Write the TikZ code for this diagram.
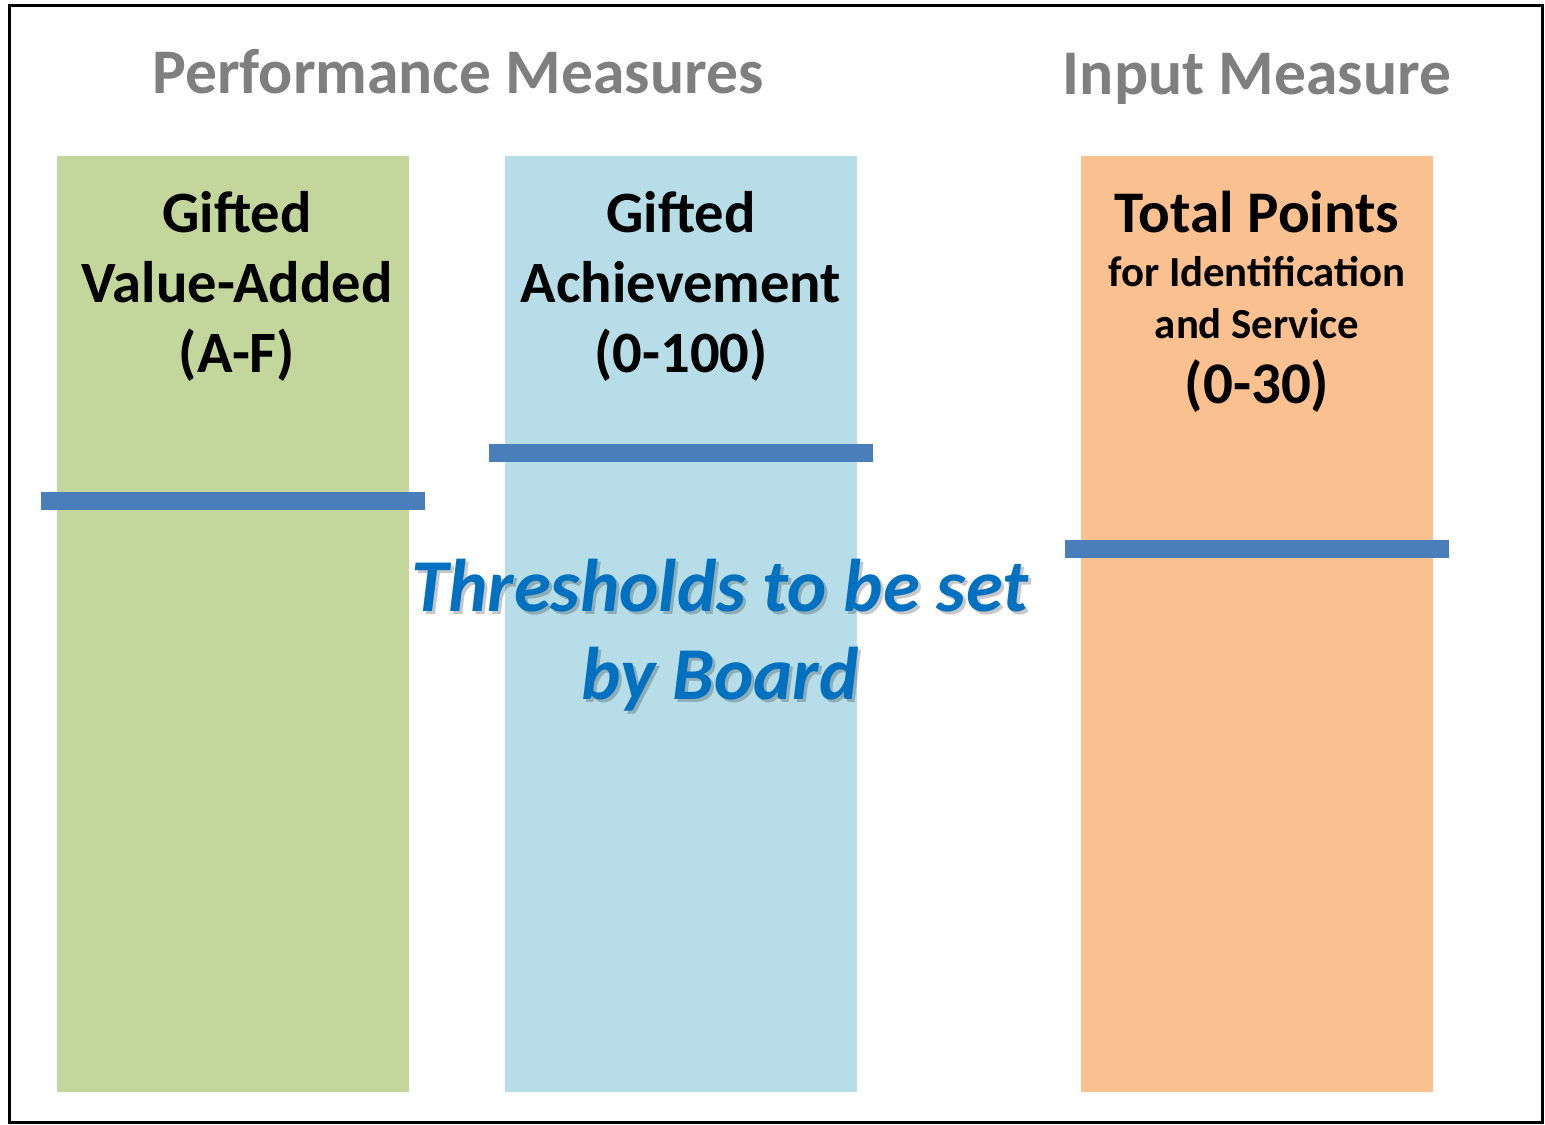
\documentclass[tikz,border=0pt]{standalone}
\usepackage{fontspec}
\setmainfont{Carlito}
\usetikzlibrary{positioning}
\definecolor{gvgreen}{HTML}{C3D69B}
\definecolor{achblue}{HTML}{B7DEE8}
\definecolor{ptorange}{HTML}{FAC090}
\definecolor{thrline}{HTML}{4A7EBB}
\definecolor{hdgray}{HTML}{7F7F7F}
\definecolor{brdblue}{HTML}{0070C0}
\tikzset{
  bar/.style={minimum width=176pt,minimum height=468pt,inner sep=0pt,outer sep=0pt,draw=none},
  thr/.style={draw=thrline,line width=9pt},
  head/.style={text=hdgray,font=\fontsize{31.8}{38}\selectfont\bfseries},
  lbl/.style={align=center,font=\fontsize{29.3}{35}\selectfont\bfseries},
  big/.style={font=\fontsize{29.5}{35}\selectfont\bfseries},
  small/.style={font=\fontsize{21.4}{26}\selectfont\bfseries}
}

\begin{document}
\begin{tikzpicture}[x=0.5pt,y=-0.5pt]
           \useasboundingbox (0,0) rectangle (1545,1124);
           \draw[line width=1.5pt] (9,5.5) rectangle (1542.5,1122);
           \node[head] (perf) at (458,72) {Performance Measures};
           \node[head] (inp) at (1257,79) {Input Measure};
           \node[bar,fill=gvgreen] (gva) at (233,624) {};
           \node[bar,fill=achblue] (ach) [right=48pt of gva] {};
           \node[bar,fill=ptorange] (pts) [right=112pt of ach] {};
           \draw[thr] ([xshift=-8pt,yshift=-172.5pt]gva.north west) -- ([xshift=8pt,yshift=-172.5pt]gva.north east);
           \draw[thr] ([xshift=-8pt,yshift=-148.25pt]ach.north west) -- ([xshift=8pt,yshift=-148.25pt]ach.north east);
           \draw[thr] ([xshift=-8pt,yshift=-196.25pt]pts.north west) -- ([xshift=8pt,yshift=-196.25pt]pts.north east);
           \node[lbl] (gvatxt) [below=14pt of gva.north,xshift=2pt] {Gifted\\Value-Added\\(A-F)};
           \node[lbl] (achtxt) [below=14pt of ach.north] {Gifted\\Achievement\\(0-100)};
           \node[big] (tot) at ([yshift=-28pt]pts.north) {Total Points};
           \node[small] (ident) at ([yshift=-58pt]pts.north) {for Identification};
           \node[small] (serv) at ([yshift=-84pt]pts.north) {and Service};
           \node[big] (rng) at ([yshift=-115pt]pts.north) {(0-30)};
           % shadow first, then the text
           \node[align=center,text=black,opacity=0.22,font=\fontsize{37.3}{44}\selectfont\bfseries\itshape] (thrshd) at (723,638) {Thresholds to be set\\by Board};
           \node[align=center,text=brdblue,font=\fontsize{37.3}{44}\selectfont\bfseries\itshape] (thrtxt) at (720,635) {Thresholds to be set\\by Board};
\end{tikzpicture}
\end{document}
